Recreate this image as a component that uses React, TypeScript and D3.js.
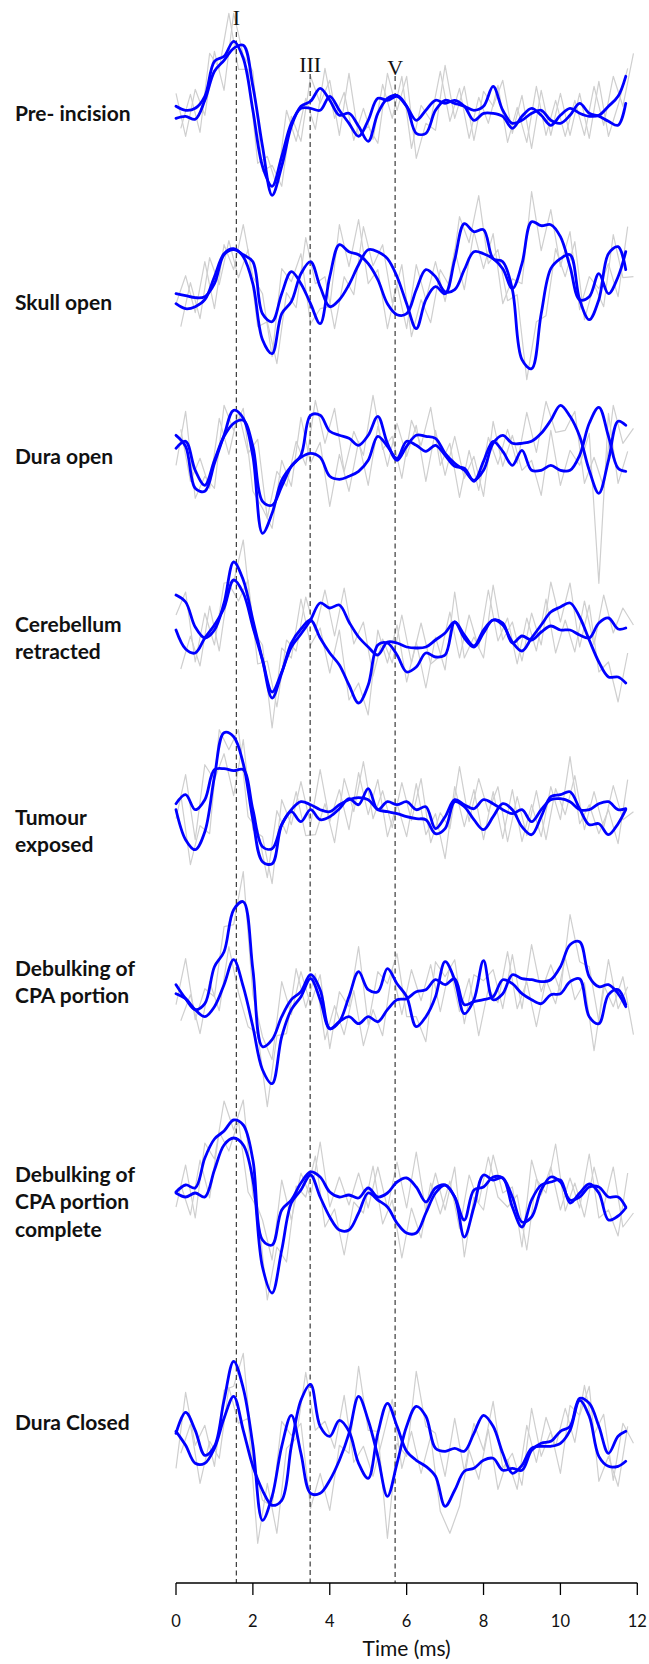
import React from "react";
import * as d3 from "d3";

// ---------- data ----------
const STAGE_LABELS: string[][] = [
  ["Pre- incision"],
  ["Skull open"],
  ["Dura open"],
  ["Cerebellum", "retracted"],
  ["Tumour", "exposed"],
  ["Debulking of", "CPA portion"],
  ["Debulking of", "CPA portion", "complete"],
  ["Dura Closed"],
];

// sample times (ms)
const TIME_AVG: number[] = [...d3.range(0, 11.5 + 1e-9, 0.25), 11.7];
const TIME_RAW_A: number[] = [...d3.range(0.125, 11.625 + 1e-9, 0.25), 11.9];
const TIME_RAW_B: number[] = d3.range(0, 11.75 + 1e-9, 0.25);

const X_TICKS = [0, 2, 4, 6, 8, 10, 12];
const WAVE_NAMES = ["I", "III", "V"];
const WAVE_LATENCY_MS = [1.57, 3.49, 5.7];

// amplitudes (arbitrary units, + = up)
const preIncisionA = [-5,-3,-6,13,42,53,65,68,27,-33,-82,-53,-13,7,12,25,13,-2,0,-13,-28,0,15,18,7,-20,-20,3,13,10,7,3,7,27,3,-10,-7,0,3,-7,-10,-2,10,0,-3,-8,-12,10];
const preIncisionB = [7,3,5,17,52,57,72,55,3,-53,-73,-43,-10,5,5,3,17,3,-10,-23,-7,15,13,17,7,-7,3,13,10,13,7,-7,0,0,-3,-15,-3,5,-2,-12,-2,5,0,-3,-2,7,17,37];
const preIncisionRawA = [-15,19,-19,60,45,100,44,44,-50,-43,-73,3,-28,15,-16,45,-5,21,-27,5,-26,29,-5,37,-35,8,-7,42,-8,25,-25,16,-10,28,-29,6,-29,27,-22,13,-23,13,-22,27,-12,37,7,60];
const preIncisionRawB = [20,-23,24,-2,62,23,100,58,42,-58,-52,-73,-3,-28,37,10,33,-22,40,-23,-13,-30,40,3,37,-45,-10,-17,48,-5,27,-27,22,7,33,-20,18,-35,23,-22,20,-22,20,-25,32,-23,8,45];

const skullOpenA = [3,1,-1,0,13,42,47,42,35,-17,-25,3,25,13,-7,-27,20,52,45,42,33,17,-7,-18,-17,7,27,20,5,7,27,45,43,38,28,8,33,75,71,72,60,30,-3,0,23,3,20,45];
const skullOpenB = [-7,-12,-10,-3,20,43,48,40,13,-43,-57,-17,-5,23,35,10,-10,-3,12,32,47,45,38,20,-7,-32,-3,10,3,37,73,65,67,38,35,7,-63,-72,-17,28,38,42,-3,-23,-3,43,50,27];
const skullOpenRawA = [-30,14,-22,39,12,56,19,47,-30,-25,-67,4,-11,59,13,20,-32,20,2,70,31,52,-6,32,-40,-3,-26,27,10,80,54,101,33,47,-4,2,-83,-25,-19,48,20,55,-23,12,-10,62,19,20];
const skullOpenRawB = [-7,21,-16,35,-12,52,27,72,20,3,-60,28,15,43,-27,-12,-10,72,30,77,13,27,-32,12,-32,32,-3,35,-5,47,7,65,28,63,-7,18,13,105,46,87,30,65,-13,20,8,33,0,70];

const duraOpenA = [18,7,-35,-38,-10,18,43,35,-3,-80,-60,-27,-13,-4,0,-4,-23,-26,-23,-18,-7,17,7,-5,12,8,2,8,-2,-13,-15,-28,-8,12,2,-12,3,-17,-17,-12,-17,-17,-2,30,46,17,-15,-18];
const duraOpenB = [5,12,-17,-32,-7,17,30,33,7,-48,-52,-33,-13,-2,38,38,22,18,15,8,18,37,10,-7,7,18,17,15,0,-10,-17,-27,-17,10,18,10,10,12,20,33,48,37,17,-17,-40,-7,32,28];
const duraOpenRawA = [24,-28,-5,-35,35,-1,42,0,14,-65,-18,-33,12,-12,53,10,45,-18,22,-2,58,4,17,-25,33,8,46,-12,10,-44,3,-37,16,-11,24,-10,41,1,52,21,23,42,-30,-4,-34,48,10,25];
const duraOpenRawB = [-12,42,-45,-23,-35,48,23,45,-38,-55,-75,-7,-33,36,-10,11,-53,-1,-38,12,-32,27,-13,30,-3,28,-28,23,-22,17,-25,-3,-43,32,-13,18,-17,-7,-42,23,-32,3,-12,20,-130,40,-30,2];

const cerebellumA = [45,38,13,2,10,37,78,60,20,-20,-58,-33,-3,11,20,2,-13,-25,-45,-63,-45,-5,-3,-15,-32,-27,-13,-17,-15,18,2,-7,7,20,15,-2,-11,2,15,28,33,37,23,0,-22,-37,-37,-43];
const cerebellumB = [10,-9,-13,2,15,32,60,47,13,-20,-52,-32,-7,6,20,37,32,35,18,3,-7,-15,-2,-3,-7,-8,-7,0,7,18,5,-6,10,20,17,-3,4,0,8,14,10,10,5,2,17,22,11,12];
const cerebellumRawA = [-29,4,-26,34,-11,56,39,60,-24,-21,-67,0,-11,43,9,50,4,52,-4,18,-36,1,-23,25,-23,17,-24,-16,28,-18,25,-8,50,-1,22,-24,22,-11,41,-13,20,-12,39,-5,45,7,32,15];
const cerebellumRawB = [25,48,-22,27,-5,57,58,100,10,-5,-88,-8,-18,41,-5,12,-33,10,-60,-43,-75,10,-23,15,-42,-2,-48,3,-30,48,-18,3,-18,55,0,18,-21,27,-5,58,18,57,-7,35,-32,-22,-62,-13];

const tumourA = [3,12,-3,7,37,38,36,37,-3,-40,-42,-18,-3,5,2,-3,-5,2,7,9,7,-3,-5,-7,-10,-12,-13,-27,-22,5,0,-13,-23,-10,3,-3,-20,-28,-10,10,12,15,-2,-18,-17,-28,-17,-3];
const tumourB = [-3,-33,-43,-25,30,74,70,43,-13,-55,-57,-18,-5,-15,-3,-13,-10,-2,8,2,18,-3,5,2,5,-3,0,-22,-10,7,2,-2,7,3,-3,-7,-3,-15,-3,7,8,5,-3,-3,3,5,-3,-2];
const tumourRawA = [12,-58,-19,-27,77,57,77,-10,-23,-71,-4,-27,15,-29,-28,3,-36,28,-5,45,-12,16,-21,24,-14,28,-36,-6,-22,40,-15,28,-5,20,-35,10,-29,16,-33,18,-8,31,-23,15,-21,21,-13,-5];
const tumourRawB = [-12,32,-33,42,27,53,11,67,-23,-30,-77,7,-18,25,-18,37,-15,17,-23,34,-8,27,-30,3,-30,23,-28,-7,-52,20,-20,17,-33,15,-32,17,-35,2,-30,20,-13,50,-17,2,-27,-3,-37,27];

const debulkA = [12,-2,-13,-7,30,45,87,95,27,-50,-43,-20,-3,5,22,7,-32,-25,0,25,7,5,28,13,0,-30,-20,0,35,17,-17,-3,36,-3,3,22,18,17,15,17,30,52,55,20,10,12,3,-10];
const debulkB = [3,-2,-13,-20,-10,12,37,10,-30,-73,-87,-40,-13,0,18,-3,-32,-25,-20,-27,-20,-25,-13,-3,-2,5,7,17,12,18,-8,-5,-3,0,17,13,3,-3,-7,2,3,15,18,-20,-27,2,7,-8];
const debulkRawA = [-24,2,-37,15,-14,50,4,-30,-37,-110,-39,-37,28,-11,23,-43,-9,-38,6,-49,-13,-39,27,-18,27,-4,32,-15,30,-15,18,-39,8,-6,45,-12,15,-30,17,-7,39,-3,14,-54,12,-10,20,-38];
const debulkRawB = [-8,38,-23,8,0,70,72,125,2,-40,-63,15,-18,25,-8,22,-52,5,-10,50,-28,25,13,43,-20,-20,-45,35,20,37,-27,22,16,27,-12,42,-12,52,5,32,5,82,35,30,-25,37,-12,10];

const debulkDoneA = [8,15,12,42,61,69,80,75,40,-40,-45,-10,0,17,28,23,8,3,5,2,12,3,7,18,22,13,-2,12,15,3,-37,-7,25,20,22,-7,-27,0,15,18,20,-3,7,16,7,-20,-16,-8];
const debulkDoneB = [7,3,7,3,30,55,62,55,20,-67,-93,-50,-3,10,25,3,-17,-30,-30,-13,7,0,-7,-23,-33,-33,-13,7,15,3,-20,10,13,23,22,3,-22,-17,10,23,18,0,3,13,13,3,3,-7];
const debulkDoneRawA = [15,-15,40,2,68,49,79,8,-9,-100,-47,-62,14,3,44,-27,-9,-55,-2,-13,34,-24,0,-58,-8,-38,17,-14,19,-29,25,-3,43,3,-7,5,-50,21,7,56,-11,17,-17,33,-7,33,-27,-13];
const debulkDoneRawB = [-7,35,-18,57,41,99,70,100,5,-20,-60,20,-20,27,3,58,-7,23,-5,27,-8,33,-8,38,-8,48,-12,27,-10,33,-57,3,-10,45,7,13,-47,40,5,33,-10,22,-8,46,-18,-10,-36,27];

const duraClosedA = [10,31,13,-12,-3,43,82,55,-2,-77,-53,-3,28,-10,-50,-50,-37,-17,10,47,23,-13,-53,-20,17,37,27,-5,-8,-5,-8,10,28,17,-10,-30,-22,-5,-3,-3,0,13,43,27,-13,-23,-23,-18];
const duraClosedB = [12,-2,-20,-20,-5,25,47,13,-23,-47,-62,-57,-3,43,59,17,7,23,12,-20,-35,10,40,17,-8,-17,-23,-33,-63,-47,-28,-25,-17,-15,-27,-25,-27,-7,0,2,12,17,45,40,17,-10,7,12];
const duraClosedRawA = [-10,19,-40,2,-15,56,20,25,-100,-40,-90,-5,5,71,13,22,-5,48,-19,-3,-33,5,44,-25,12,-30,7,-68,-90,-63,-7,-36,14,-46,-16,-46,18,-19,26,-3,35,1,58,9,29,-37,20,0];
const duraClosedRawB = [-25,51,-2,18,-23,53,57,90,-17,-57,-63,22,8,20,-65,-30,-67,-2,-10,77,13,12,-95,0,-13,72,17,10,-33,25,-28,20,-7,42,-25,-10,-42,35,-13,12,-30,38,28,57,-38,-13,-43,17];

const AVG_SERIES = [
  [preIncisionA, preIncisionB],
  [skullOpenA, skullOpenB],
  [duraOpenA, duraOpenB],
  [cerebellumA, cerebellumB],
  [tumourA, tumourB],
  [debulkA, debulkB],
  [debulkDoneA, debulkDoneB],
  [duraClosedA, duraClosedB],
];
const RAW_SERIES = [
  [preIncisionRawA, preIncisionRawB],
  [skullOpenRawA, skullOpenRawB],
  [duraOpenRawA, duraOpenRawB],
  [cerebellumRawA, cerebellumRawB],
  [tumourRawA, tumourRawB],
  [debulkRawA, debulkRawB],
  [debulkDoneRawA, debulkDoneRawB],
  [duraClosedRawA, duraClosedRawB],
];

// ---------- layout ----------
const W = 649;
const H = 1664;
const PANEL_Y = [113.3, 296.7, 453.3, 640, 806.7, 996.7, 1200, 1443.3];
const LABEL_BASELINES = [
  [120.5],
  [310],
  [463.5],
  [631.5, 659],
  [824.5, 852],
  [975.5, 1003],
  [1181.5, 1209, 1236.5],
  [1429.5],
];
const AXIS_Y = 1583;
const WAVE_LABEL_Y = [25, 71.7, 75];
const WAVE_LINE_TOP = [32, 74, 76];

export default function App() {
  const x = d3.scaleLinear().domain([0, 12]).range([176, 637.3]);
  const amp = d3.scaleLinear().domain([-100, 100]).range([100, -100]);

  const makeLine = (times: number[], curve: d3.CurveFactory) =>
    d3
      .line<number>()
      .x((_, i) => x(times[i]))
      .y((d) => amp(d))
      .curve(curve);

  const avgLine = makeLine(TIME_AVG, d3.curveCatmullRom.alpha(0.5));
  const rawLineA = makeLine(TIME_RAW_A, d3.curveLinear);
  const rawLineB = makeLine(TIME_RAW_B, d3.curveLinear);

  const labelFont = "Lato, 'Open Sans', 'DejaVu Sans', sans-serif";

  return (
    <svg
      width={W}
      height={H}
      viewBox={`0 0 ${W} ${H}`}
      style={{ position: "absolute", left: 0, top: 0, display: "block", background: "#fff" }}
    >
      <rect x={0} y={0} width={W} height={H} fill="#ffffff" />

      {/* raw grey traces */}
      {RAW_SERIES.map((pair, p) => (
        <g key={`raw-${p}`} transform={`translate(0,${PANEL_Y[p]})`}>
          <path d={rawLineA(pair[0]) || ""} fill="none" stroke="#cfcfcf" strokeWidth={1.2} strokeLinejoin="round" />
          <path d={rawLineB(pair[1]) || ""} fill="none" stroke="#cfcfcf" strokeWidth={1.2} strokeLinejoin="round" />
        </g>
      ))}

      {/* wave markers */}
      {WAVE_LATENCY_MS.map((t, i) => (
        <g key={`wave-${i}`}>
          <line
            x1={x(t)}
            x2={x(t)}
            y1={WAVE_LINE_TOP[i]}
            y2={AXIS_Y}
            stroke="#3a3a3a"
            strokeWidth={1.2}
            strokeDasharray="5,3.5"
          />
          <text
            x={x(t)}
            y={WAVE_LABEL_Y[i]}
            textAnchor="middle"
            fontFamily="'Liberation Serif', 'DejaVu Serif', serif"
            fontSize={22}
            fill="#111"
          >
            {WAVE_NAMES[i]}
          </text>
        </g>
      ))}

      {/* averaged blue traces */}
      {AVG_SERIES.map((pair, p) => (
        <g key={`avg-${p}`} transform={`translate(0,${PANEL_Y[p]})`}>
          {pair.map((s, j) => (
            <path
              key={j}
              d={avgLine(s) || ""}
              fill="none"
              stroke="#0000ff"
              strokeWidth={2.8}
              strokeLinejoin="round"
              strokeLinecap="round"
            />
          ))}
        </g>
      ))}

      {/* stage labels */}
      {STAGE_LABELS.map((lines, p) => (
        <text key={`lab-${p}`} fontFamily={labelFont} fontWeight={700} fontSize={21} fill="#111">
          {lines.map((ln, k) => (
            <tspan key={k} x={15} y={LABEL_BASELINES[p][k]}>
              {ln}
            </tspan>
          ))}
        </text>
      ))}

      {/* x axis */}
      <g>
        <line x1={x(0)} x2={x(12)} y1={AXIS_Y} y2={AXIS_Y} stroke="#000" strokeWidth={1.3} />
        {X_TICKS.map((t) => (
          <g key={`tick-${t}`}>
            <line x1={x(t)} x2={x(t)} y1={AXIS_Y} y2={AXIS_Y + 12} stroke="#000" strokeWidth={1.3} />
            <text
              x={x(t)}
              y={AXIS_Y + 44}
              textAnchor="middle"
              fontFamily={labelFont}
              fontSize={16.5}
              fill="#111"
            >
              {t}
            </text>
          </g>
        ))}
        <text
          x={(x(0) + x(12)) / 2}
          y={AXIS_Y + 73}
          textAnchor="middle"
          fontFamily={labelFont}
          fontSize={21}
          fill="#111"
        >
          Time (ms)
        </text>
      </g>
    </svg>
  );
}
